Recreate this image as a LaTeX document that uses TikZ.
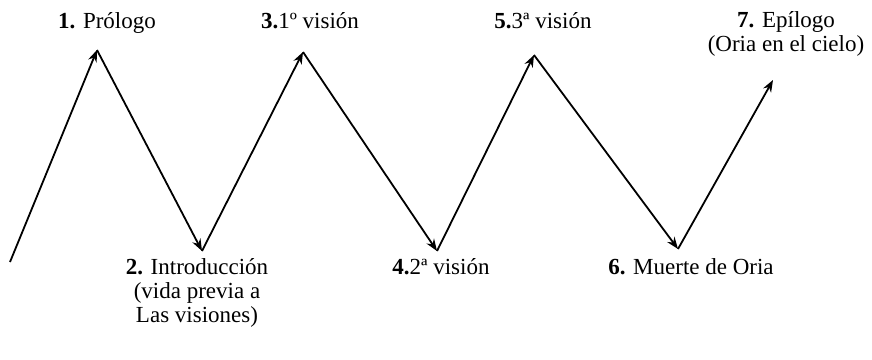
\documentclass[tikz,border=0pt]{standalone}
\usepackage{fontspec}
\setmainfont{Liberation Serif}
\usetikzlibrary{arrows.meta}
\begin{document}
\begin{tikzpicture}[x=0.5pt,y=-0.5pt,
                arrow/.style={-{Stealth[length=6pt,width=4.5pt]},line width=0.9pt},
                stage/.style={anchor=base,inner sep=0pt,align=center,
                    font=\fontsize{11.5}{12}\selectfont},
                ]
                \useasboundingbox (0,0) rectangle (872,359);
                % zigzag corners
                \coordinate (start) at (10,262);
                \coordinate (top1) at (97,50);
                \coordinate (low1) at (202,251);
                \coordinate (top2) at (303,52);
                \coordinate (low2) at (437,251);
                \coordinate (top3) at (534,55);
                \coordinate (low3) at (678,249);
                \coordinate (end) at (773,80);
                \draw[arrow] (start) -- (top1);
                \draw[arrow] (top1) -- (low1);
                \draw[arrow] (low1) -- (top2);
                \draw[arrow] (top2) -- (low2);
                \draw[arrow] (low2) -- (top3);
                \draw[arrow] (top3) -- (low3);
                \draw[arrow] (low3) -- (end);
                % stages (base = last line)
                \node[stage] (prologo) at (107,28) {\textbf{1.} Prólogo};
                \node[stage] (intro) at (197,322) {\textbf{2.} Introducción\\(vida previa a\\Las visiones)};
                \node[stage] (vision1) at (310,28) {\textbf{3.}1º visión};
                \node[stage] (vision2) at (441,274) {\textbf{4.}2ª visión};
                \node[stage] (vision3) at (543,28) {\textbf{5.}3ª visión};
                \node[stage] (muerte) at (691,274) {\textbf{6.} Muerte de Oria};
                \node[stage] (epilogo) at (786,51) {\textbf{7.} Epílogo\\(Oria en el cielo)};
            \end{tikzpicture}
\end{document}
